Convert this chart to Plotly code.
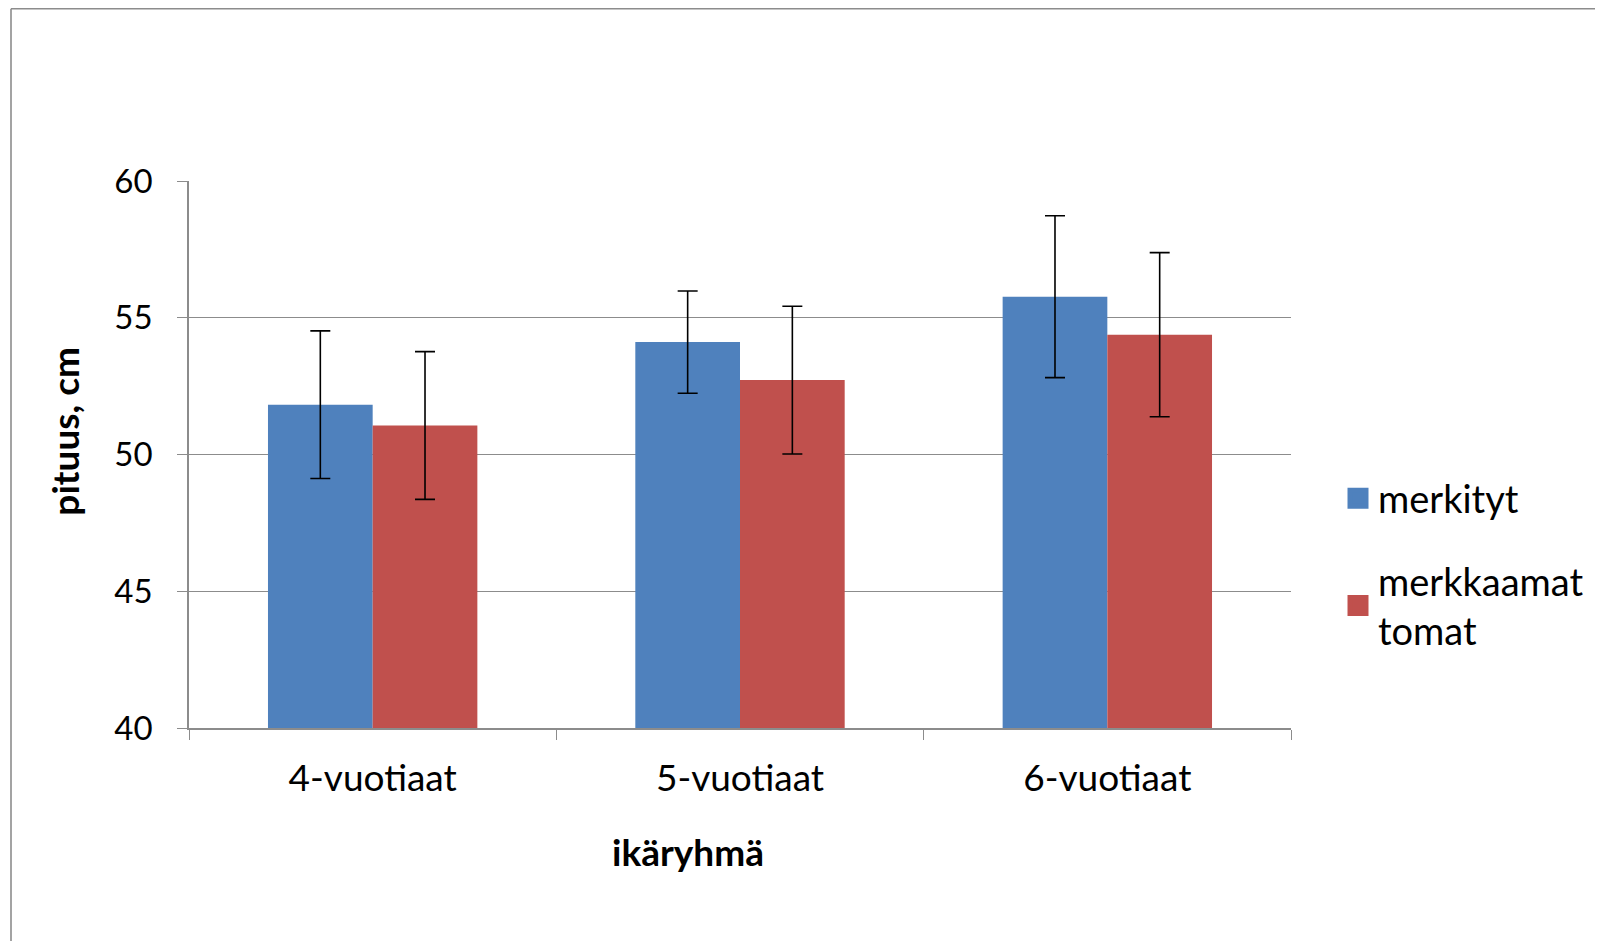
import plotly.graph_objects as go

categories = ["4-vuotiaat", "5-vuotiaat", "6-vuotiaat"]
series_names = ["merkityt", "merkkaamat<br>tomat"]
merkityt = [51.82, 54.11, 55.77]
merkityt_err = [2.70, 1.87, 2.96]
merkkaamattomat = [51.06, 52.72, 54.38]
merkkaamattomat_err = [2.70, 2.70, 3.00]
y_ticks = [40, 45, 50, 55, 60]
x_title = "ikäryhmä"
y_title = "pituus, cm"
colors = ["#4F81BD", "#C0504D"]

FONT = "Lato"
W, H = 1595, 933
L, T = 181, 173
PW, PH = 1102, 546.7
R = W - L - PW
B = H - T - PH

def px(x):
    return (x - L) / PW
def py(y):
    return (H - B - y) / PH

fig = go.Figure()
for vals, errs, name, col, grp in [
    (merkityt, merkityt_err, series_names[0], colors[0], "a"),
    (merkkaamattomat, merkkaamattomat_err, series_names[1], colors[1], "b"),
]:
    fig.add_trace(go.Bar(
        x=categories, y=vals, name=name, showlegend=False, legendgroup=grp,
        marker=dict(color=col, line=dict(width=0)),
        error_y=dict(type="data", array=errs, visible=True,
                     color="#000000", thickness=1.6, width=10),
    ))
    # legend entry with a larger square swatch
    fig.add_trace(go.Scatter(
        x=[None], y=[None], mode="markers", name=name, legendgroup=grp,
        marker=dict(symbol="square", size=16, color=col, line=dict(color=col, width=5)),
        hoverinfo="skip",
    ))

# outer chart frame (top and left edges visible in reference)
fig.add_shape(type="line", xref="paper", yref="paper",
              x0=px(3), x1=px(W), y0=py(0.8), y1=py(0.8),
              line=dict(color="#8c8c8c", width=1.6))
fig.add_shape(type="line", xref="paper", yref="paper",
              x0=px(3), x1=px(3), y0=py(0.8), y1=py(H),
              line=dict(color="#8c8c8c", width=1.6))

# axis titles (placed as in the reference, not centred on the plot area)
fig.add_annotation(text="<b>" + x_title + "</b>", xref="paper", yref="paper",
                   x=px(679.5), y=py(843), xanchor="center", yanchor="middle",
                   showarrow=False, font=dict(family=FONT, size=37, color="#000000"))
fig.add_annotation(text="<b>" + y_title + "</b>", xref="paper", yref="paper",
                   x=px(57), y=py(423.5), xanchor="center", yanchor="middle",
                   textangle=-90, showarrow=False,
                   font=dict(family=FONT, size=37, color="#000000"))

fig.update_layout(
    width=W, height=H,
    margin=dict(l=L, r=R, t=T, b=B, autoexpand=False),
    paper_bgcolor="white", plot_bgcolor="white",
    barmode="group", bargap=0.43, bargroupgap=0,
    font=dict(family=FONT, color="#000000", size=30),
    showlegend=True,
    legend=dict(x=px(1330), y=py(459), xanchor="left", yanchor="top",
                font=dict(family=FONT, size=38, color="#000000"),
                traceorder="grouped", tracegroupgap=30, itemwidth=30,
                itemsizing="trace",
                bgcolor="rgba(0,0,0,0)"),
    xaxis=dict(
        type="category", tickson="boundaries",
        ticks="outside", ticklen=10, tickcolor="#8c8c8c", tickwidth=1.3,
        showline=True, linecolor="#8c8c8c", linewidth=1.5,
        showgrid=False, ticklabelstandoff=17,
        tickfont=dict(family=FONT, size=37, color="#000000"),
    ),
    yaxis=dict(
        range=[40, 60], tickvals=y_ticks,
        ticks="outside", ticklen=10, tickcolor="#8c8c8c", tickwidth=1.3,
        showline=True, linecolor="#8c8c8c", linewidth=1.5,
        showgrid=True, gridcolor="#8c8c8c", gridwidth=1.3,
        zeroline=False, ticklabelstandoff=18,
        tickfont=dict(family=FONT, size=33, color="#000000"),
    ),
)

fig.write_html("out.html")
